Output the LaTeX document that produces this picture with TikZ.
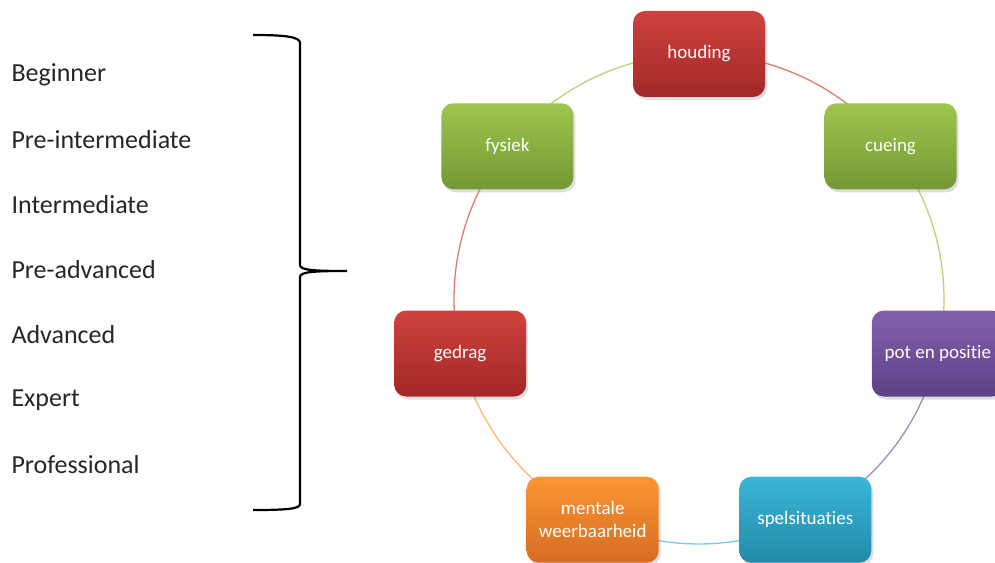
\documentclass[tikz,border=0pt]{standalone}
\usepackage{fontspec}
\setmainfont{Carlito}[Ligatures=NoCommon]
\usetikzlibrary{shadows,backgrounds}

\definecolor{redtop}{RGB}{206,66,62}
\definecolor{redbot}{RGB}{163,40,40}
\definecolor{greentop}{RGB}{158,198,78}
\definecolor{greenbot}{RGB}{116,152,52}
\definecolor{purpletop}{RGB}{132,96,172}
\definecolor{purplebot}{RGB}{94,64,134}
\definecolor{bluetop}{RGB}{58,182,216}
\definecolor{bluebot}{RGB}{34,138,168}
\definecolor{orangetop}{RGB}{250,150,52}
\definecolor{orangebot}{RGB}{214,108,34}

\tikzset{
    box/.style={rounded corners=12pt, minimum width=132pt, minimum height=86pt,
        text=white, align=center, font=\fontsize{19}{23}\selectfont,
        drop shadow={opacity=0.25, shadow xshift=2pt, shadow yshift=-3pt}},
    level/.style={anchor=west, font=\fontsize{26}{31}\selectfont, text=black!85},
    ring/.style={line width=1.3pt},
}

\begin{document}
\begin{tikzpicture}[x=1pt,y=1pt]
    \useasboundingbox (0,0) rectangle (995,562);

    % Levels on the left
    \node[level] (beginner) at (8,487) {Beginner};
    \node[level] (preint)   at (8,422) {Pre-intermediate};
    \node[level] (inter)    at (8,357) {Intermediate};
    \node[level] (preadv)   at (8,292) {Pre-advanced};
    \node[level] (adv)      at (8,227) {Advanced};
    \node[level] (expert)   at (8,162) {Expert};
    \node[level] (prof)     at (8,97)  {Professional};

    % Brace
    \draw[line width=2.2pt] (253,527) .. controls (286,527) and (300,525) .. (300,519)
        -- (300,297) .. controls (300,292) and (312,291) .. (347,291)
        .. controls (312,291) and (300,290) .. (300,285)
        -- (300,58) .. controls (300,53) and (286,52) .. (253,52);

    % Cycle
    \def\R{245}
    \coordinate (c) at (699,263);

    \node[box, top color=redtop, bottom color=redbot]       (houding) at ([shift={(90:\R)}]c) {houding};
    \node[box, top color=greentop, bottom color=greenbot]   (cueing)  at ([shift={(38.57:\R)}]c) {cueing};
    \node[box, top color=purpletop, bottom color=purplebot] (pot)     at ([shift={(-12.86:\R)}]c) {pot en positie};
    \node[box, top color=bluetop, bottom color=bluebot]     (spel)    at ([shift={(-64.29:\R)}]c) {spelsituaties};
    \node[box, top color=orangetop, bottom color=orangebot] (mentale) at ([shift={(-115.71:\R)}]c) {mentale\\weerbaarheid};
    \node[box, top color=redtop, bottom color=redbot]       (gedrag)  at ([shift={(-167.14:\R)}]c) {gedrag};
    \node[box, top color=greentop, bottom color=greenbot]   (fysiek)  at ([shift={(141.43:\R)}]c) {fysiek};

    % Arcs between the boxes, behind them
    \begin{pgfonlayer}{background}
        \draw[ring, redtop!70]    (houding.center) arc[start angle=90, end angle=38.57, radius=\R];
        \draw[ring, greentop!75]  (cueing.center)  arc[start angle=38.57, end angle=-12.86, radius=\R];
        \draw[ring, purpletop!75] (pot.center)     arc[start angle=-12.86, end angle=-64.29, radius=\R];
        \draw[ring, bluetop!70]   (spel.center)    arc[start angle=-64.29, end angle=-115.71, radius=\R];
        \draw[ring, orangetop!70] (mentale.center) arc[start angle=-115.71, end angle=-167.14, radius=\R];
        \draw[ring, redtop!70]    (gedrag.center)  arc[start angle=-167.14, end angle=-218.57, radius=\R];
        \draw[ring, greentop!75]  (fysiek.center)  arc[start angle=141.43, end angle=90, radius=\R];
    \end{pgfonlayer}

\end{tikzpicture}
\end{document}
